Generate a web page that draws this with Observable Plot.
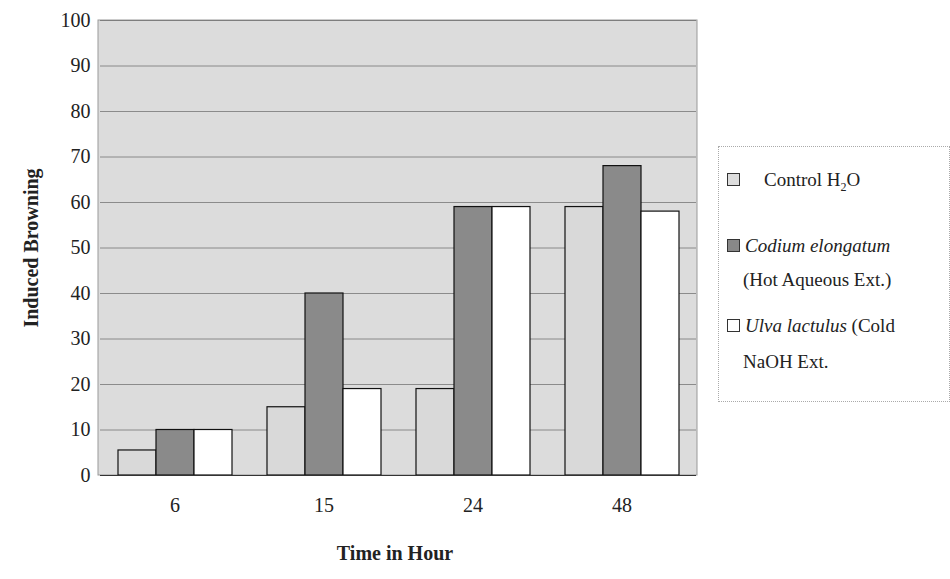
<!DOCTYPE html>
<html><head>
<script src="https://cdn.jsdelivr.net/npm/d3@7"></script>
<script src="https://cdn.jsdelivr.net/npm/@observablehq/plot@0.6"></script>
<style>
body{margin:0;background:#fff;font-family:"Liberation Serif",serif;}
#wrap{position:relative;width:950px;height:579px;}
#chart{position:absolute;left:0;top:0;}
#legend{position:absolute;left:718px;top:146px;width:230px;height:254px;border:1px dotted #aaa;font-size:19px;color:#222;}
#legend div{position:absolute;left:8px;}
.sw{display:inline-block;width:11px;height:11px;border:1px solid #333;margin-right:5px;}
</style></head><body>
<div id="wrap"><div id="chart"></div>
<div id="legend">
<div style="top:22px"><span class="sw" style="background:#ddd"></span>&nbsp;&nbsp;&nbsp;&nbsp;Control H<sub style="font-size:12px">2</sub>O</div>
<div style="top:88px"><span class="sw" style="background:#888"></span><i>Codium elongatum</i></div>
<div style="top:122px;left:24px">(Hot Aqueous Ext.)</div>
<div style="top:168px"><span class="sw" style="background:#fff"></span><i>Ulva lactulus</i> (Cold</div>
<div style="top:204px;left:24px">NaOH Ext.</div>
</div></div>
<script>
const hours = ["6", "15", "24", "48"];
const series = ["Control H2O", "Codium elongatum", "Ulva lactulus"];
const control = [5.5, 15, 19, 59];
const codium = [10, 40, 59, 68];
const ulva = [10, 19, 59, 58];
const colors = ["#d9d9d9", "#8a8a8a", "#ffffff"];

const rows = [];
hours.forEach((h, i) => {
  rows.push({hour: h, s: series[0], v: control[i]});
  rows.push({hour: h, s: series[1], v: codium[i]});
  rows.push({hour: h, s: series[2], v: ulva[i]});
});

const chart = Plot.plot({
  width: 710, height: 579,
  marginLeft: 98, marginRight: 13, marginTop: 20, marginBottom: 104,
  style: {fontFamily: "Liberation Serif", fontSize: "20px", color: "#222"},
  fx: {domain: hours, padding: 0, label: null, axis: null},
  x: {domain: series, axis: null, paddingInner: 0, paddingOuter: 0.45},
  y: {domain: [0, 100], ticks: d3.range(0, 101, 10), label: null},
  color: {domain: series, range: colors},
  marks: [
    Plot.gridY(d3.range(10, 101, 10), {stroke: "#555", strokeOpacity: 0.6}),
    Plot.barY(rows, {fx: "hour", x: "s", y: "v", fill: "s", stroke: "#111", strokeWidth: 1.2}),
    Plot.axisY({ticks: d3.range(0, 101, 10), tickSize: 0, tickPadding: 10, fontSize: 20, label: null}),
    Plot.axisFx({anchor: "bottom", tickSize: 0, tickPadding: 22, fontSize: 20, label: null}),
    Plot.ruleY([0], {stroke: "#333"})
  ]
});
const svg = d3.select(chart);
svg.insert("rect", ":first-child").attr("x", 98).attr("y", 20).attr("width", 599).attr("height", 455)
  .attr("fill", "#dcdcdc").attr("stroke", "#999");
svg.append("text").attr("x", 395).attr("y", 560).attr("text-anchor", "middle")
  .attr("font-weight", "bold").attr("font-size", 20).text("Time in Hour");
svg.append("text").attr("transform", "translate(38,248) rotate(-90)").attr("text-anchor", "middle")
  .attr("font-weight", "bold").attr("font-size", 20).text("Induced Browning");
document.getElementById("chart").appendChild(chart);
</script></body></html>
